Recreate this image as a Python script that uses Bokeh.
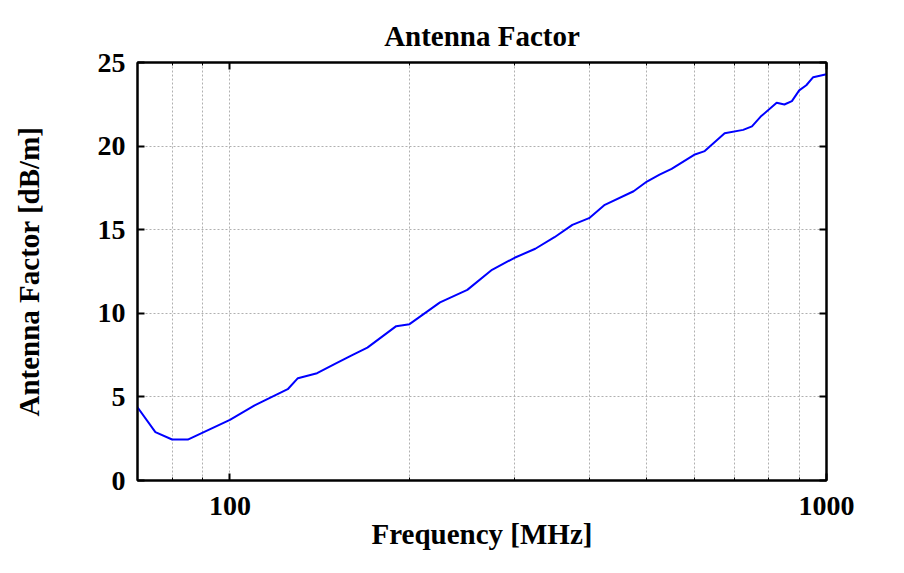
from bokeh.plotting import figure
from bokeh.models import (Range1d, FixedTicker, PrintfTickFormatter, LogAxis,
                          LinearAxis, ColumnDataSource, CustomJSTickFormatter)
from bokeh.embed import file_html
from bokeh.resources import INLINE

# ---- data ----
freq_mhz = [70, 75, 80, 85, 100, 110, 125, 130, 140, 150, 160, 170, 190, 200,
            225, 250, 275, 300, 325, 350, 375, 400, 425, 475, 500, 525, 550,
            600, 625, 675, 725, 750, 775, 825, 850, 875, 900, 925, 950, 1000]
antenna_factor_db = [4.38, 2.89, 2.45, 2.45, 3.63, 4.49, 5.46, 6.12, 6.42, 6.98,
                     7.48, 7.95, 9.23, 9.35, 10.65, 11.40, 12.60, 13.32, 13.86,
                     14.55, 15.29, 15.69, 16.49, 17.30, 17.88, 18.29, 18.64,
                     19.48, 19.70, 20.77, 20.97, 21.18, 21.75, 22.59, 22.49,
                     22.69, 23.33, 23.64, 24.12, 24.30]
x_major_ticks = [100, 1000]
x_minor_ticks = [70, 80, 90, 200, 300, 400, 500, 600, 700, 800, 900]
y_ticks = [0, 5, 10, 15, 20, 25]

FONT = "Liberation Serif"
GRID = "#b0b0b0"

source = ColumnDataSource(data=dict(f=freq_mhz, af=antenna_factor_db))

W, H = 886, 556
p = figure(width=W, height=H, x_axis_type="log",
           x_range=Range1d(70, 1000), y_range=Range1d(0, 25),
           output_backend="svg", toolbar_location=None,
           title="Antenna Factor",
           min_border_left=137, min_border_right=W - 826,
           min_border_top=62, min_border_bottom=H - 480)

p.line("f", "af", source=source, line_color="#0000ff", line_width=2)

xticker = FixedTicker(ticks=x_major_ticks, minor_ticks=x_minor_ticks)
yticker = FixedTicker(ticks=y_ticks, minor_ticks=[])

# title
p.title.text_font = FONT
p.title.text_font_size = "29px"
p.title.text_font_style = "bold"
p.title.text_color = "black"
p.title.align = "center"
p.title.standoff = 21

def style_axis(ax, labels=True):
    ax.axis_line_color = "black"
    ax.axis_line_width = 2
    ax.major_tick_line_color = "black"
    ax.major_tick_line_width = 2
    ax.major_tick_in = 7
    ax.major_tick_out = 0
    ax.minor_tick_line_color = "black"
    ax.minor_tick_line_width = 1
    ax.minor_tick_in = 3
    ax.minor_tick_out = 0
    ax.major_label_text_font = FONT
    ax.major_label_text_font_style = "bold"
    ax.major_label_text_color = "black"
    ax.major_label_text_font_size = "28px"
    if not labels:
        ax.formatter = CustomJSTickFormatter(code="return ''")
        ax.major_label_standoff = 0

# bottom x axis
xa = p.xaxis[0]
xa.ticker = xticker
xa.formatter = PrintfTickFormatter(format="%d")
style_axis(xa)
xa.major_label_standoff = 16
xa.axis_label = "Frequency [MHz]"
xa.axis_label_text_font = FONT
xa.axis_label_text_font_size = "29px"
xa.axis_label_text_font_style = "bold"
xa.axis_label_text_color = "black"
xa.axis_label_standoff = 0

# left y axis
ya = p.yaxis[0]
ya.ticker = yticker
style_axis(ya)
ya.minor_tick_line_color = None
ya.major_label_standoff = 12
ya.axis_label = "Antenna Factor [dB/m]"
ya.axis_label_text_font = FONT
ya.axis_label_text_font_size = "29px"
ya.axis_label_text_font_style = "bold"
ya.axis_label_text_color = "black"
ya.axis_label_standoff = 50

# top and right mirror axes (ticks only)
top = LogAxis(ticker=xticker)
style_axis(top, labels=False)
p.add_layout(top, "above")

right = LinearAxis(ticker=yticker)
style_axis(right, labels=False)
right.minor_tick_line_color = None
p.add_layout(right, "right")

# grids
p.xgrid.ticker = xticker
p.ygrid.ticker = yticker
for g in (p.xgrid[0], p.ygrid[0]):
    g.grid_line_color = GRID
    g.grid_line_width = 1
    g.grid_line_dash = "2 2"
p.xgrid.minor_grid_line_color = GRID
p.xgrid.minor_grid_line_dash = "2 2"
p.xgrid.minor_grid_line_width = 1

p.outline_line_color = "black"
p.outline_line_width = 2
p.background_fill_color = "white"
p.border_fill_color = "white"

open("out.html", "w").write(file_html(p, INLINE))
